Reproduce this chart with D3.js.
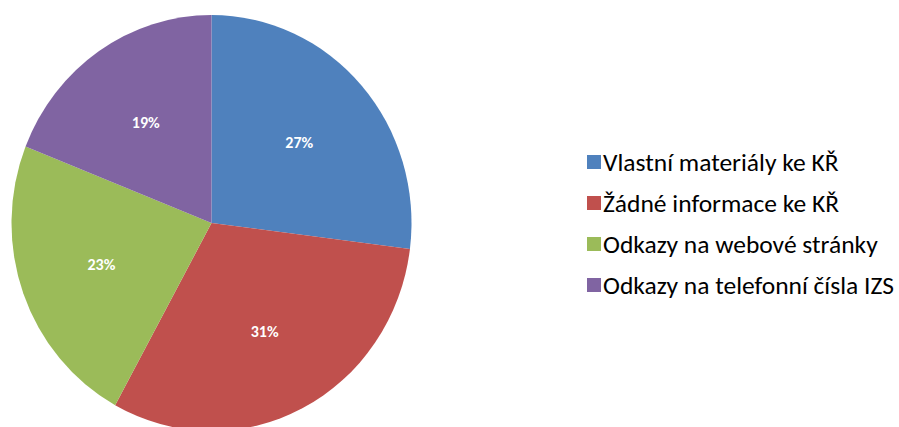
<!DOCTYPE html>
<html>
<head>
<meta charset="utf-8">
<script src="https://cdn.jsdelivr.net/npm/d3@7"></script>
<style>
  body { margin: 0; background: #fff; }
  text { font-family: Carlito, Calibri, "Open Sans", sans-serif; }
</style>
</head>
<body>
<div id="chart"></div>
<script>
// Data
const categories = [
    "Vlastní materiály ke KŘ",
    "Žádné informace ke KŘ",
    "Odkazy na webové stránky",
    "Odkazy na telefonní čísla IZS"
];
const values = [27, 31, 23, 19];
const colors = ["#4F81BD", "#C0504D", "#9BBB59", "#8064A2"];

const dataset = categories.map((name, i) => ({ name, value: values[i] }));

// Dimensions
const dimensions = { width: 899, height: 427 };
const center = { x: 211.5, y: 223 };
const radius = 200;
const stretchY = 208 / 200;

const svg = d3.select('#chart')
    .append('svg')
    .attr('width', dimensions.width)
    .attr('height', dimensions.height);

// Scales
const pie = d3.pie()
    .value(d => d.value)
    .sort(null);

const slices = pie(dataset);

const arc = d3.arc()
    .outerRadius(radius)
    .innerRadius(0);

const labelArc = d3.arc()
    .outerRadius(radius * 0.585)
    .innerRadius(radius * 0.585);

const colorScale = d3.scaleOrdinal()
    .domain(categories)
    .range(colors);

// Pie
const arcGroup = svg.append('g')
    .attr('transform', `translate(${center.x}, ${center.y}) scale(1, ${stretchY})`);

arcGroup.selectAll('path')
    .data(slices)
    .join('path')
    .attr('d', arc)
    .attr('fill', d => colorScale(d.data.name));

// Labels
svg.append('g')
    .attr('transform', `translate(${center.x}, ${center.y})`)
    .selectAll('text')
    .data(slices)
    .join('text')
    .attr('transform', d => {
        const [x, y] = labelArc.centroid(d);
        return `translate(${x}, ${y * stretchY})`;
    })
    .attr('text-anchor', 'middle')
    .attr('dy', '0.35em')
    .attr('fill', '#fff')
    .style('font-weight', 'bold')
    .style('font-size', '16px')
    .text(d => d.data.value + '%');

// Legend
const legend = svg.append('g')
    .attr('transform', 'translate(587, 162)');

const rows = legend.selectAll('g')
    .data(dataset)
    .join('g')
    .attr('transform', (d, i) => `translate(0, ${i * 41})`);

rows.append('rect')
    .attr('x', 0)
    .attr('y', -7)
    .attr('width', 14)
    .attr('height', 14)
    .attr('fill', d => colorScale(d.name));

rows.append('text')
    .attr('x', 16)
    .attr('dy', '0.36em')
    .attr('fill', '#000')
    .style('font-size', '25.5px')
    .text(d => d.name);
</script>
</body>
</html>
